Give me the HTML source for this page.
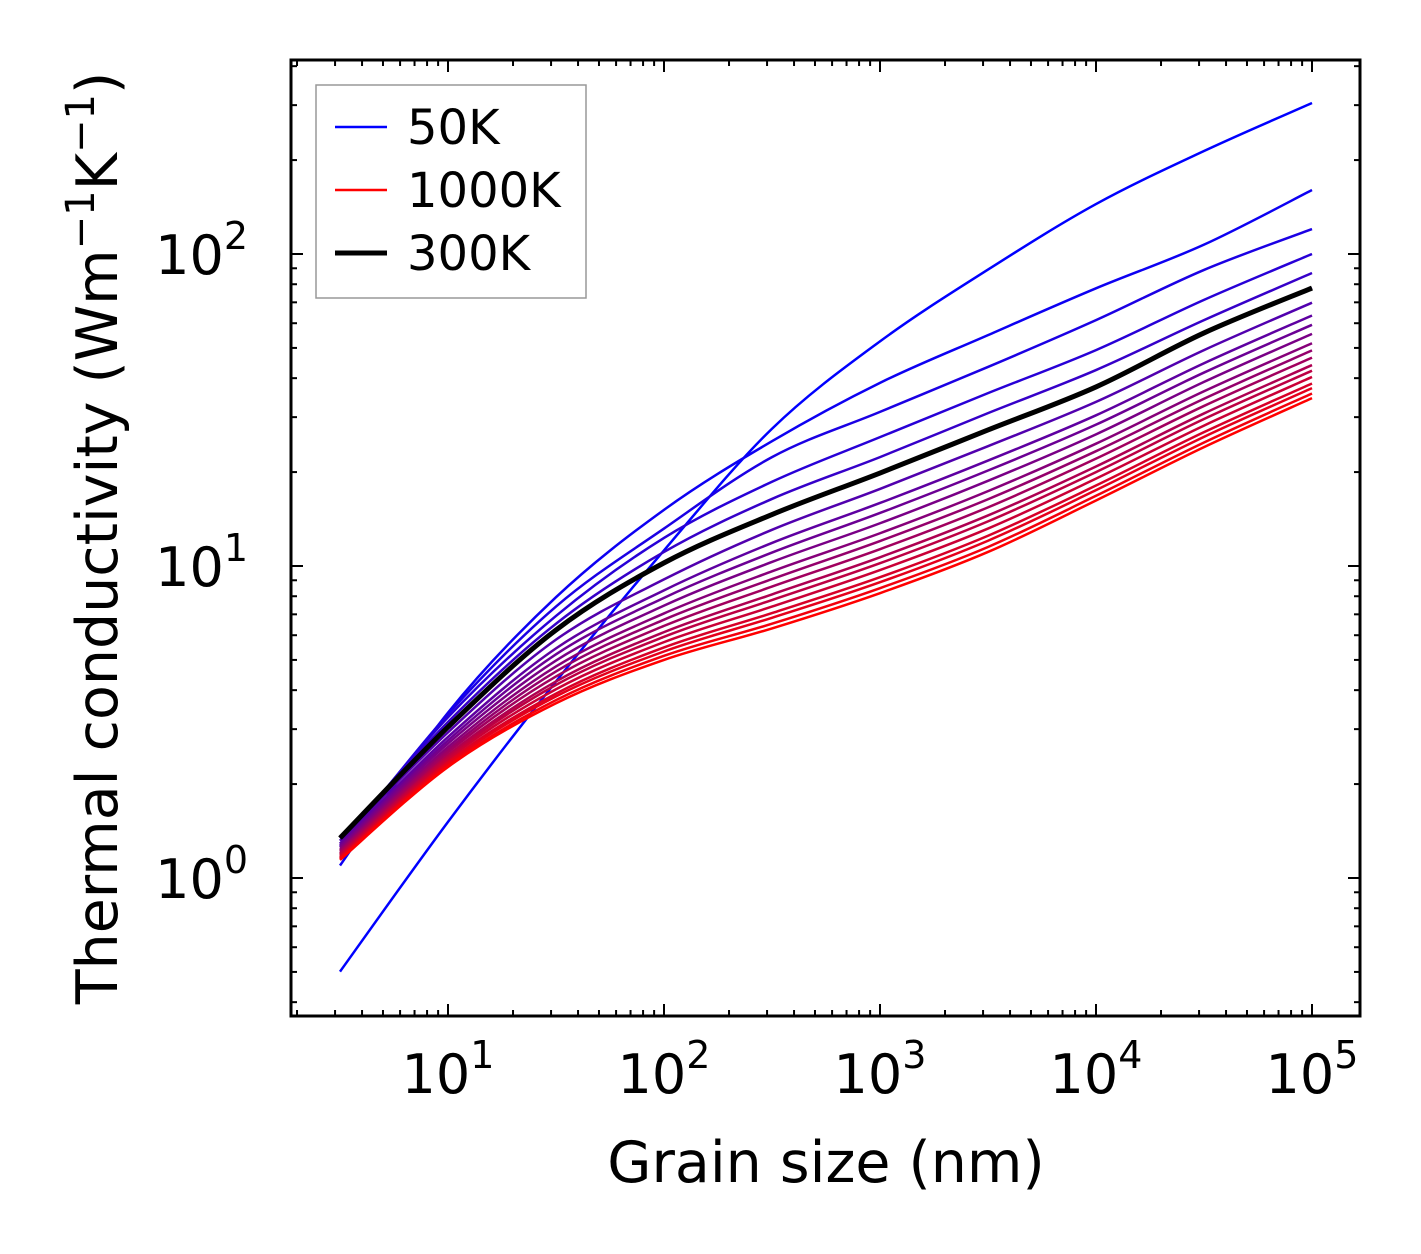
<!DOCTYPE html>
<html><head><meta charset="utf-8"><style>
body{margin:0;background:#fff}
svg{display:block;font-family:"DejaVu Sans","Liberation Sans",sans-serif}
</style></head><body>
<svg id="chart" width="1421" height="1254" viewBox="0 0 1421 1254">
<g id="lines"></g>
<rect x="291" y="60" width="1069" height="956" fill="none" stroke="#000" stroke-width="3"/>
<g id="ticks"></g>
<text x="826" y="1182" font-size="57" text-anchor="middle">Grain size (nm)</text>
<text transform="translate(117,538) rotate(-90)" font-size="57" text-anchor="middle">Thermal conductivity (Wm<tspan dy="-23" font-size="40">−1</tspan><tspan dy="23">K</tspan><tspan dy="-23" font-size="40">−1</tspan><tspan dy="23">)</tspan></text>
<g>
<rect x="316" y="85" width="270" height="213" fill="#fff" stroke="#999" stroke-width="1.5"/>
<line x1="335" y1="127" x2="387" y2="127" stroke="#0000ff" stroke-width="2.5"/>
<text x="407" y="144" font-size="48">50K</text>
<line x1="335" y1="190" x2="387" y2="190" stroke="#ff0000" stroke-width="2.5"/>
<text x="407" y="207" font-size="48">1000K</text>
<line x1="335" y1="253" x2="387" y2="253" stroke="#000" stroke-width="5"/>
<text x="407" y="270" font-size="48">300K</text>
</g>
</svg>
<script>
const grainLog = [0.5,1,1.5,2,2.5,3,3.5,4,4.5,5];
const temps = [50,100,150,200,250,300,350,400,450,500,550,600,650,700,750,800,850,900,950,1000];
const k50 = [-0.30,0.18,0.63,1.05,1.44,1.72,1.95,2.16,2.33,2.484];
const k100 = [0.04,0.53,0.90,1.18,1.40,1.587,1.74,1.89,2.03,2.205];
const k150 = [0.10,0.525,0.87,1.12,1.349,1.494,1.638,1.788,1.949,2.08];
const k200 = [0.11,0.515,0.84,1.09,1.27,1.413,1.554,1.692,1.853,2.0];
const k250 = [0.12,0.50,0.815,1.045,1.215,1.349,1.49,1.628,1.788,1.939];
const k300 = [0.128,0.484,0.795,1.010,1.165,1.298,1.436,1.574,1.747,1.891];
const k350 = [0.119,0.467,0.764,0.957,1.116,1.247,1.384,1.526,1.692,1.844];
const k400 = [0.110,0.452,0.736,0.922,1.074,1.202,1.338,1.483,1.650,1.803];
const k450 = [0.105,0.441,0.717,0.898,1.043,1.170,1.306,1.453,1.620,1.773];
const k500 = [0.099,0.431,0.697,0.873,1.013,1.137,1.273,1.422,1.590,1.744];
const k550 = [0.093,0.420,0.678,0.848,0.983,1.105,1.240,1.392,1.560,1.714];
const k600 = [0.088,0.411,0.662,0.828,0.958,1.080,1.214,1.368,1.536,1.691];
const k650 = [0.084,0.403,0.646,0.808,0.934,1.054,1.188,1.344,1.513,1.668];
const k700 = [0.079,0.394,0.630,0.788,0.909,1.028,1.162,1.319,1.489,1.644];
const k750 = [0.075,0.388,0.619,0.773,0.891,1.009,1.143,1.301,1.471,1.626];
const k800 = [0.071,0.381,0.605,0.756,0.870,0.987,1.120,1.280,1.450,1.606];
const k850 = [0.067,0.373,0.591,0.739,0.849,0.964,1.097,1.258,1.429,1.585];
const k900 = [0.064,0.368,0.582,0.726,0.834,0.948,1.081,1.243,1.414,1.570];
const k950 = [0.061,0.361,0.570,0.712,0.815,0.929,1.061,1.225,1.396,1.553];
const k1000 = [0.058,0.356,0.560,0.699,0.800,0.913,1.045,1.210,1.381,1.538];
const series = [k50,k100,k150,k200,k250,k300,k350,k400,k450,k500,k550,k600,k650,k700,k750,k800,k850,k900,k950,k1000];
const xTickExp = [1,2,3,4,5];
const yTickExp = [0,1,2];

const xs = lg => 448 + (lg-1)*216;
const ys = lg => 878 - lg*312;
const NS='http://www.w3.org/2000/svg';
function mk(tag, attrs, parent){const e=document.createElementNS(NS,tag);for(const k in attrs)e.setAttribute(k,attrs[k]);parent.appendChild(e);return e;}
function pathD(vals){
  const p=vals.map((v,i)=>[xs(grainLog[i]),ys(v)]);
  let d='M'+p[0][0]+','+p[0][1];
  for(let i=0;i<p.length-1;i++){
    const p0=p[Math.max(0,i-1)],p1=p[i],p2=p[i+1],p3=p[Math.min(p.length-1,i+2)];
    const c1=[p1[0]+(p2[0]-p0[0])/6,p1[1]+(p2[1]-p0[1])/6];
    const c2=[p2[0]-(p3[0]-p1[0])/6,p2[1]-(p3[1]-p1[1])/6];
    d+=` C${c1[0]},${c1[1]} ${c2[0]},${c2[1]} ${p2[0]},${p2[1]}`;
  }
  return d;
}
const lines=document.getElementById('lines');
series.forEach((vals,i)=>{
  const t=(temps[i]-50)/950;
  const col=`rgb(${Math.round(255*t)},0,${Math.round(255*(1-t))})`;
  const el=mk('path',{d:pathD(vals),fill:'none',stroke:col,'stroke-width':2.5},lines);
  
  
});
const blk=mk('path',{d:pathD(k300),fill:'none',stroke:'#000','stroke-width':5},lines);



const tk=document.getElementById('ticks');
const L=291,R=1360,T=60,B=1016;
for(let d=0;d<=5;d++){for(let m=1;m<10;m++){
  const lg=d+Math.log10(m); const x=xs(lg); if(x<L||x>R)continue;
  const len=m===1?12:6;
  mk('line',{x1:x,y1:B,x2:x,y2:B-len,stroke:'#000','stroke-width':2},tk);
  mk('line',{x1:x,y1:T,x2:x,y2:T+len,stroke:'#000','stroke-width':2},tk);
}}
xTickExp.forEach(e=>{
  const t=mk('text',{x:xs(e),y:1093,'font-size':54,'text-anchor':'middle'},tk);
  t.innerHTML='10<tspan dy="-25" font-size="38">'+e+'</tspan>';
  
  
});
for(let d=-1;d<=2;d++){for(let m=1;m<10;m++){
  const lg=d+Math.log10(m); const y=ys(lg); if(y<T||y>B)continue;
  const len=m===1?12:6;
  mk('line',{x1:L,y1:y,x2:L+len,y2:y,stroke:'#000','stroke-width':2},tk);
  mk('line',{x1:R,y1:y,x2:R-len,y2:y,stroke:'#000','stroke-width':2},tk);
}}
yTickExp.forEach(e=>{
  const t=mk('text',{x:248,y:ys(e)+20,'font-size':54,'text-anchor':'end'},tk);
  t.innerHTML='10<tspan dy="-25" font-size="38">'+e+'</tspan>';
  
  
});
</script>
</body></html>
